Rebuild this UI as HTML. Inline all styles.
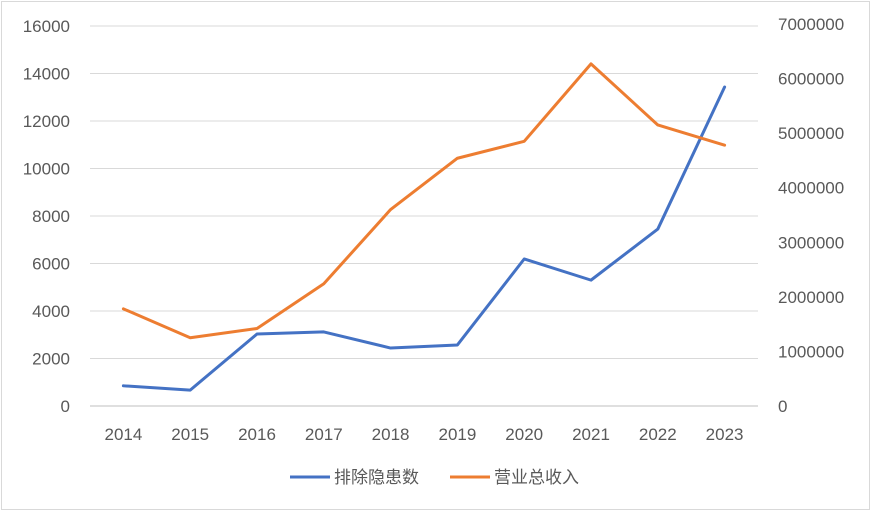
<!DOCTYPE html>
<html><head><meta charset="utf-8"><style>
body{margin:0;background:#fff;}
svg{display:block;font-family:"Liberation Sans","Noto Sans CJK SC",sans-serif;}
</style></head><body>
<svg width="871" height="511">
<rect x="1.5" y="1.5" width="868" height="508" fill="#fff" stroke="#d9d9d9"/>
<g id="grid"></g><g id="axes"></g><g id="series"></g>
<g>
<line x1="290" y1="477" x2="330" y2="477" stroke="#4472c4" stroke-width="3"/>
<text x="334" y="483" font-size="17" fill="#595959">排除隐患数</text>
<line x1="450" y1="477" x2="490" y2="477" stroke="#ed7d31" stroke-width="3"/>
<text x="494" y="483" font-size="17" fill="#595959">营业总收入</text>
</g>
</svg>
<script>
const years=["2014","2015","2016","2017","2018","2019","2020","2021","2022","2023"];
const hazards=[850,670,3030,3120,2440,2570,6190,5300,7450,13430];
const revenue=[1780000,1250000,1420000,2240000,3600000,4540000,4850000,6270000,5150000,4780000];
const leftTicks=[0,2000,4000,6000,8000,10000,12000,14000,16000];
const rightTicks=[0,1000000,2000000,3000000,4000000,5000000,6000000,7000000];
const NS="http://www.w3.org/2000/svg";
const y0=406,yTop=26,xL=90,xR=758;
const yL=v=>y0-(v/16000)*(y0-yTop);
const yR=v=>y0-(v/7000000)*(y0-24);
const step=(xR-xL)/years.length;
const xs=i=>xL+step*(i+0.5);
function mk(tag,attrs,parent){const e=document.createElementNS(NS,tag);for(const k in attrs)e.setAttribute(k,attrs[k]);parent.appendChild(e);return e;}
const grid=document.getElementById('grid'),axes=document.getElementById('axes'),series=document.getElementById('series');
leftTicks.forEach(t=>{
 const l=mk('line',{x1:xL,x2:xR,y1:yL(t),y2:yL(t),stroke:t===0?'#bfbfbf':'#d9d9d9','stroke-width':1},grid);
 
 
 const tx=mk('text',{x:70,y:yL(t)+6,'text-anchor':'end','font-size':17,fill:'#595959'},axes);
 tx.textContent=t;
 
 
});
rightTicks.forEach(t=>{
 const tx=mk('text',{x:778,y:yR(t)+6,'font-size':17,fill:'#595959'},axes);
 tx.textContent=t;
 
 
});
years.forEach((yr,i)=>{
 const tx=mk('text',{x:xs(i),y:440,'text-anchor':'middle','font-size':17,fill:'#595959'},axes);
 tx.textContent=yr;
 
 
});
const p1=mk('polyline',{points:hazards.map((v,i)=>xs(i)+','+yL(v)).join(' '),fill:'none',stroke:'#4472c4','stroke-width':3,'stroke-linejoin':'round','stroke-linecap':'round'},series);


const p2=mk('polyline',{points:revenue.map((v,i)=>xs(i)+','+yR(v)).join(' '),fill:'none',stroke:'#ed7d31','stroke-width':3,'stroke-linejoin':'round','stroke-linecap':'round'},series);


</script>
</body></html>
